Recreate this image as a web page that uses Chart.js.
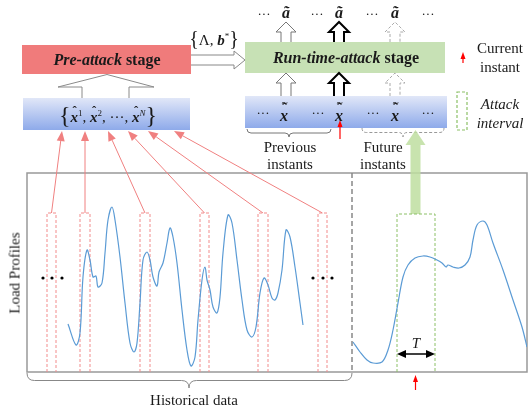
<!DOCTYPE html>
<html>
<head>
<meta charset="utf-8">
<script src="https://cdn.jsdelivr.net/npm/chart.js@4.4.1/dist/chart.umd.min.js"></script>
<style>
html,body{margin:0;padding:0;background:#fff;}
#wrap{position:relative;width:529px;height:414px;overflow:hidden;font-family:"Liberation Serif","Times New Roman",serif;color:#1a1a1a;}
#c{position:absolute;left:0;top:0;}
.t{position:absolute;transform:translate(-50%,-50%);white-space:nowrap;line-height:1;}
.bi{font-weight:bold;font-style:italic;}
.acc{position:relative;display:inline-block;}
.acc .h{position:absolute;left:55%;top:-0.42em;transform:translateX(-50%);font-weight:bold;font-size:0.85em;}
.acc .w{position:absolute;left:58%;top:-0.98em;transform:translateX(-50%);font-weight:bold;font-size:0.7em;}
.br{font-size:24px;font-weight:normal;position:relative;top:1px;}
sup{font-size:0.6em;vertical-align:0.7em;}
</style>
</head>
<body>
<div id="wrap">
<canvas id="c" width="529" height="414"></canvas>

<div class="t" style="left:214px;top:38px;font-size:15px;"><span style="font-size:20px;">{</span>Λ, <span class="bi">b</span><sup>*</sup><span style="font-size:20px;">}</span></div>
<div class="t" style="left:107px;top:60px;font-size:16px;font-weight:bold;"><i>Pre-attack</i> stage</div>
<div class="t" style="left:108px;top:114px;font-size:15px;"><span class="br">{</span><span class="acc"><span class="bi">x</span><span class="h">ˆ</span></span><sup>1</sup>, <span class="acc"><span class="bi">x</span><span class="h">ˆ</span></span><sup>2</sup>, ···, <span class="acc"><span class="bi">x</span><span class="h">ˆ</span></span><sup><i>N</i></sup><span class="br">}</span></div>
<div class="t" style="left:346px;top:58px;font-size:16px;font-weight:bold;"><i>Run-time-attack</i> stage</div>

<div class="t" style="left:264px;top:13px;font-size:13px;">···</div>
<div class="t bi" style="left:286px;top:13px;font-size:16px;">ã</div>
<div class="t" style="left:317px;top:13px;font-size:13px;">···</div>
<div class="t bi" style="left:339px;top:13px;font-size:16px;">ã</div>
<div class="t" style="left:372px;top:13px;font-size:13px;">···</div>
<div class="t bi" style="left:395px;top:13px;font-size:16px;">ã</div>
<div class="t" style="left:428px;top:13px;font-size:13px;">···</div>

<div class="t" style="left:263px;top:112px;font-size:13px;">···</div>
<div class="t" style="left:284px;top:116px;font-size:16px;"><span class="acc"><span class="bi">x</span><span class="h">ˆ</span><span class="w">~</span></span></div>
<div class="t" style="left:318px;top:112px;font-size:13px;">···</div>
<div class="t" style="left:339px;top:116px;font-size:16px;"><span class="acc"><span class="bi">x</span><span class="h">ˆ</span><span class="w">~</span></span></div>
<div class="t" style="left:373px;top:112px;font-size:13px;">···</div>
<div class="t" style="left:395px;top:116px;font-size:16px;"><span class="acc"><span class="bi">x</span><span class="h">ˆ</span><span class="w">~</span></span></div>
<div class="t" style="left:428px;top:112px;font-size:13px;">···</div>

<div class="t" style="left:500px;top:48px;font-size:15px;">Current</div>
<div class="t" style="left:500px;top:67px;font-size:15px;">instant</div>
<div class="t" style="left:500px;top:104px;font-size:15px;font-style:italic;">Attack</div>
<div class="t" style="left:500px;top:123px;font-size:15px;font-style:italic;">interval</div>

<div class="t" style="left:290px;top:147px;font-size:15px;">Previous</div>
<div class="t" style="left:290px;top:164px;font-size:15px;">instants</div>
<div class="t" style="left:383px;top:147px;font-size:15px;">Future</div>
<div class="t" style="left:383px;top:164px;font-size:15px;">instants</div>

<div class="t" style="left:15px;top:273px;font-size:15px;transform:translate(-50%,-50%) rotate(-90deg);">Load Profiles</div>
<div class="t" style="left:194px;top:400px;font-size:15px;">Historical data</div>
<div class="t" style="left:416px;top:343px;font-size:15px;font-style:italic;">T</div>
</div>

<script>
// ---- data (x: time index, y: load level) ----
const histX = [41,49,53,56,60,63,66,69,71,75,78,81,85,88,93,98,103,107,110,113,116,120,123,126,130,132,136,140,143,146,150,155,160,164,168,171,175,178,180,183,186,190,193,196,201,205,210,215,220,225,229,233,237,241,245,248,251,255,259,263,268,273,276];
const histY = [48,27,39,95,122,112,95,96,85,89,119,152,165,152,115,69,29,20,29,69,112,120,112,95,86,100,109,129,144,135,109,62,22,6,15,52,92,105,92,82,65,59,75,119,157,149,112,72,42,35,45,79,94,87,74,72,79,102,142,135,105,69,47];
const curX = [326,333,340,346,355,361,366,371,376,381,388,396,403,410,415,419,421,426,432,438,443,446,450,456,460,466,476,486,495,500];
const curY = [30,20,12,9,10,22,42,69,95,107,114,116,115,112,109,105,107,105,104,107,115,132,147,151,147,129,102,72,45,25];
// historical windows sampled (start, end), current attack window, divider
const histWinStart = [20,53,113,173,231,291];
const histWinEnd   = [29,63,123,182,241,300];
const winTop = 159;
const attackWin = [370,408];
const dividerX = 325;
const dotsX = [16,25,35,286,296,305];
const dotsY = 94;
const tArrowY = 18;
// connector arrow tips at bottom of the pre-attack sample box (page px)
const connTipX = [62,85,108,128,148,174];

function toPts(xs, ys){ return xs.map((x,i)=>({x:x,y:ys[i]})); }

function hollowUp(ctx,cx,tip,base,bottom,hw,sw){
  ctx.beginPath();
  ctx.moveTo(cx-sw,bottom);ctx.lineTo(cx-sw,base);ctx.lineTo(cx-hw,base);
  ctx.lineTo(cx,tip);ctx.lineTo(cx+hw,base);ctx.lineTo(cx+sw,base);ctx.lineTo(cx+sw,bottom);
  ctx.stroke();
}
function headArrow(ctx,x0,y0,x1,y1,len,hw,color,lw){
  const a=Math.atan2(y1-y0,x1-x0);
  const bx=x1-len*Math.cos(a), by=y1-len*Math.sin(a);
  ctx.strokeStyle=color;ctx.fillStyle=color;ctx.lineWidth=lw;ctx.setLineDash([]);
  ctx.beginPath();ctx.moveTo(x0,y0);ctx.lineTo(bx,by);ctx.stroke();
  ctx.beginPath();ctx.moveTo(x1,y1);
  ctx.lineTo(bx+hw*Math.sin(a),by-hw*Math.cos(a));
  ctx.lineTo(bx-hw*Math.sin(a),by+hw*Math.cos(a));
  ctx.closePath();ctx.fill();
}
function brace(ctx,x1,x2,y,h,mid){
  const m=mid===undefined?(x1+x2)/2:mid, r=h/2, yl=y+h/2;
  ctx.beginPath();
  ctx.moveTo(x1,y);ctx.quadraticCurveTo(x1,yl,x1+r,yl);
  ctx.lineTo(m-r,yl);ctx.quadraticCurveTo(m,yl,m,y+h);
  ctx.quadraticCurveTo(m,yl,m+r,yl);ctx.lineTo(x2-r,yl);
  ctx.quadraticCurveTo(x2,yl,x2,y);ctx.stroke();
}

const deco = {
  id:'deco',
  beforeDatasetsDraw(chart){
    const ctx=chart.ctx, xs=chart.scales.x, ys=chart.scales.y, a=chart.chartArea;
    ctx.save();
    // ----- top diagram boxes -----
    ctx.fillStyle='#f07b7b'; ctx.fillRect(22,45,169,29);
    ctx.fillStyle='#c7e1b5'; ctx.fillRect(245,42,200,31);
    let g=ctx.createLinearGradient(0,98,0,130); g.addColorStop(0,'#e1e7f8'); g.addColorStop(1,'#8eaaea');
    ctx.fillStyle=g; ctx.fillRect(23,98,167,32);
    g=ctx.createLinearGradient(0,96,0,128); g.addColorStop(0,'#e1e7f8'); g.addColorStop(1,'#8eaaea');
    ctx.fillStyle=g; ctx.fillRect(245,96,202,32);
    // big hollow arrow (sample set -> pre-attack)
    ctx.strokeStyle='#8a8a8a'; ctx.lineWidth=1;
    ctx.beginPath();
    ctx.moveTo(82,98);ctx.lineTo(82,87);ctx.lineTo(58,87);ctx.lineTo(107,74.5);
    ctx.lineTo(154,87);ctx.lineTo(129,87);ctx.lineTo(129,98);ctx.stroke();
    // horizontal hollow arrow (pre-attack -> run-time)
    ctx.strokeStyle='#888';
    ctx.beginPath();
    ctx.moveTo(191,55);ctx.lineTo(234,55);ctx.lineTo(234,51);ctx.lineTo(245,60);
    ctx.lineTo(234,69);ctx.lineTo(234,65);ctx.lineTo(191,65);ctx.stroke();
    // vertical hollow arrows
    const ax=[286,339,395];
    ax.forEach((cx,i)=>{
      if(i===0){ctx.strokeStyle='#777';ctx.lineWidth=1;ctx.setLineDash([]);}
      else if(i===1){ctx.strokeStyle='#000';ctx.lineWidth=2;ctx.setLineDash([]);}
      else {ctx.strokeStyle='#aaa';ctx.lineWidth=1;ctx.setLineDash([3,2]);}
      hollowUp(ctx,cx,22,32,42,10,5);
      hollowUp(ctx,cx,73,83,96,10,5);
    });
    ctx.setLineDash([]);
    // braces under run-time box
    ctx.strokeStyle='#777';ctx.lineWidth=1;
    brace(ctx,247,331,129,8,289);
    ctx.strokeStyle='#999';ctx.setLineDash([3,2]);
    brace(ctx,362,444,128,9,403);
    ctx.setLineDash([]);
    // legend: red arrow and green dashed box
    headArrow(ctx,463,63,463,52,7,2.5,'#ff0000',1.2);
    ctx.strokeStyle='#8cc067';ctx.lineWidth=1.2;ctx.setLineDash([3,2]);
    ctx.strokeRect(457,92,10,38);ctx.setLineDash([]);
    // red arrow at current instant in run-time box
    headArrow(ctx,340,139,340,120,7,2.5,'#ff0000',1.2);

    // ----- plot frame -----
    ctx.strokeStyle='#999';ctx.lineWidth=1.5;
    ctx.strokeRect(a.left,a.top,a.right-a.left,a.bottom-a.top);
    // divider
    ctx.strokeStyle='#888';ctx.lineWidth=1.5;ctx.setLineDash([5,3]);
    const dx=xs.getPixelForValue(dividerX);
    ctx.beginPath();ctx.moveTo(dx,a.top);ctx.lineTo(dx,a.bottom);ctx.stroke();
    // historical windows
    ctx.strokeStyle='#f28b8b';ctx.lineWidth=1;ctx.setLineDash([3,2]);
    const yt=ys.getPixelForValue(winTop);
    histWinStart.forEach((s,i)=>{
      const x1=xs.getPixelForValue(s), x2=xs.getPixelForValue(histWinEnd[i]);
      ctx.beginPath();ctx.moveTo(x1,a.bottom);ctx.lineTo(x1,yt);ctx.lineTo(x2,yt);ctx.lineTo(x2,a.bottom);ctx.stroke();
    });
    ctx.setLineDash([]);
    // connectors
    histWinStart.forEach((s,i)=>{
      const cx=(xs.getPixelForValue(s)+xs.getPixelForValue(histWinEnd[i]))/2;
      headArrow(ctx,cx,yt,connTipX[i],131,10,4,'#f08080',1);
    });
    // attack window
    const ax1=xs.getPixelForValue(attackWin[0]), ax2=xs.getPixelForValue(attackWin[1]);
    const at=ys.getPixelForValue(winTop-1);
    // green arrow
    const gc=(ax1+ax2)/2-0.5;
    ctx.fillStyle='rgba(190,222,160,0.85)';
    ctx.fillRect(gc-5,145,10,at-145);
    ctx.beginPath();ctx.moveTo(gc-10,145);ctx.lineTo(gc,130);ctx.lineTo(gc+10,145);ctx.closePath();ctx.fill();
    ctx.strokeStyle='#8cc067';ctx.lineWidth=1;ctx.setLineDash([3,2]);
    ctx.beginPath();ctx.moveTo(ax1,a.bottom);ctx.lineTo(ax1,at);ctx.lineTo(ax2,at);ctx.lineTo(ax2,a.bottom);ctx.stroke();
    ctx.setLineDash([]);
    // dots
    ctx.fillStyle='#000';
    dotsX.forEach(x=>{ctx.beginPath();ctx.arc(xs.getPixelForValue(x),ys.getPixelForValue(dotsY),1.6,0,Math.PI*2);ctx.fill();});
    // T double arrow
    const ty=ys.getPixelForValue(tArrowY), mid=(ax1+ax2)/2;
    headArrow(ctx,mid,ty,ax1,ty,9,4,'#000',1.5);
    headArrow(ctx,mid,ty,ax2,ty,9,4,'#000',1.5);
    // red arrow below plot
    headArrow(ctx,mid-0.5,390,mid-0.5,375,7,2.5,'#ff0000',1.2);
    // historical brace
    ctx.strokeStyle='#888';ctx.lineWidth=1;
    brace(ctx,a.left,dx,373,15,189);
    ctx.restore();
  }
};

new Chart(document.getElementById('c'),{
  type:'line',
  data:{datasets:[
    {data:toPts(histX,histY),borderColor:'#5b9bd5',borderWidth:1.2,pointRadius:0,tension:0.35,fill:false},
    {data:toPts(curX,curY),borderColor:'#5b9bd5',borderWidth:1.2,pointRadius:0,tension:0.35,fill:false}
  ]},
  options:{
    responsive:false,animation:false,
    layout:{padding:{left:27,top:173,right:2,bottom:42}},
    plugins:{legend:{display:false},tooltip:{enabled:false}},
    scales:{
      x:{type:'linear',min:0,max:500,display:false},
      y:{min:0,max:199,display:false}
    }
  },
  plugins:[deco]
});
</script>
</body>
</html>
